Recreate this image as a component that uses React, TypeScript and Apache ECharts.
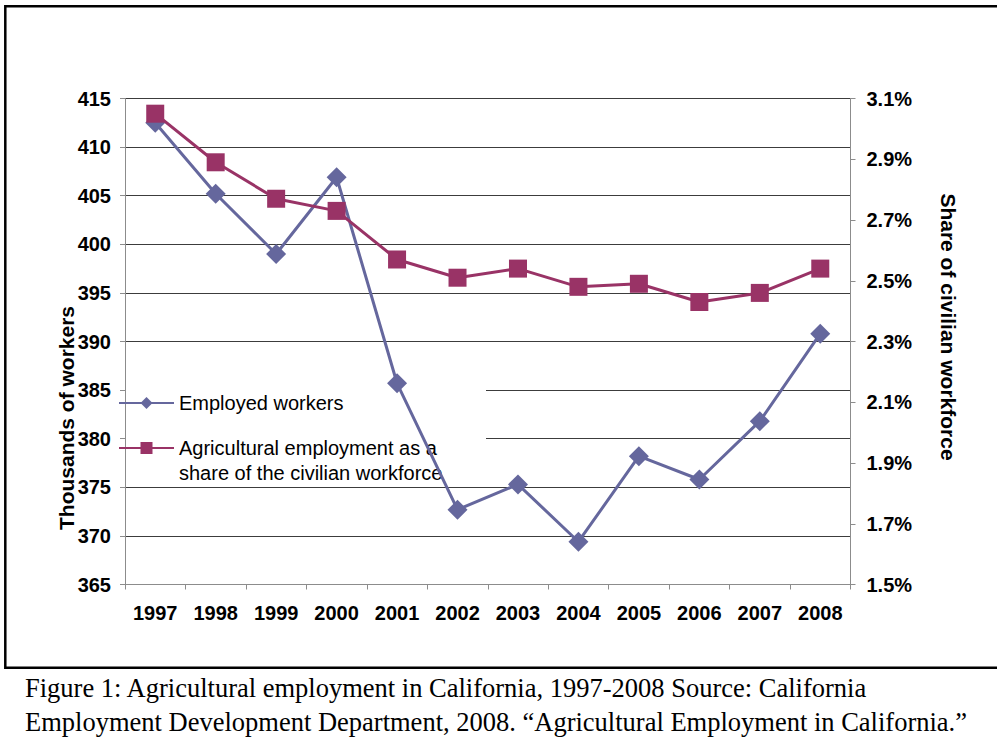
import React, { useEffect, useRef } from 'react';
import * as echarts from 'echarts';

const years = ['1997', '1998', '1999', '2000', '2001', '2002', '2003', '2004', '2005', '2006', '2007', '2008'];
const employedWorkers = [412.5, 405.2, 399.0, 406.9, 385.7, 372.7, 375.3, 369.4, 378.2, 375.8, 381.8, 390.8];
const agShare = [3.05, 2.89, 2.77, 2.73, 2.57, 2.51, 2.54, 2.48, 2.49, 2.43, 2.46, 2.54];
const rightTickValues = [1.5, 1.7, 1.9, 2.1, 2.3, 2.5, 2.7, 2.9, 3.1];

const seriesNames = ['Employed workers', 'Agricultural employment as a share of the civilian workforce'];
const captionLines = [
  'Figure 1: Agricultural employment in California, 1997-2008 Source: California',
  'Employment Development Department, 2008. \u201CAgricultural Employment in California.\u201D',
];

const SANS = '"Liberation Sans", Arial, sans-serif';
const SERIF = '"Liberation Serif", "Times New Roman", serif';

export default function App() {
  const ref = useRef<HTMLDivElement>(null);
  useEffect(() => {
    if (!ref.current) return;
    const chart = echarts.init(ref.current, undefined, { renderer: 'svg' });
    const axisGray = '#8c8c8c';
    const labelStyle = { color: '#000', fontWeight: 'bold' as const, fontSize: 20, fontFamily: SANS };
    chart.setOption({
      animation: false,
      backgroundColor: '#fff',
      grid: { left: 125, right: 146.5, top: 98.5, bottom: 155.5, containLabel: false },
      xAxis: {
        type: 'category',
        data: years,
        boundaryGap: true,
        axisLine: { lineStyle: { color: axisGray, width: 1 } },
        axisTick: { show: true, length: 5, lineStyle: { color: axisGray } },
        axisLabel: { ...labelStyle, margin: 18, interval: 0 },
        splitLine: { show: false },
      },
      yAxis: [
        {
          type: 'value',
          min: 365,
          max: 415,
          interval: 5,
          axisLine: { show: true, lineStyle: { color: axisGray } },
          axisTick: { show: true, length: 5, lineStyle: { color: axisGray } },
          axisLabel: { ...labelStyle, margin: 14 },
          splitLine: { show: true, lineStyle: { color: '#3c3c3c', width: 1 } },
        },
        {
          type: 'value',
          min: 1.5,
          max: 3.1,
          position: 'right',
          axisLine: { show: true, lineStyle: { color: axisGray } },
          axisTick: { show: true, length: 5, lineStyle: { color: axisGray }, customValues: rightTickValues },
          axisLabel: {
            ...labelStyle,
            margin: 16,
            customValues: rightTickValues,
            formatter: (v: number) => v.toFixed(1) + '%',
          },
          splitLine: { show: false },
        },
      ],
      legend: [
        {
          data: [seriesNames[0]],
          orient: 'vertical',
          left: 118,
          top: 393,
          padding: 0,
          itemWidth: 55,
          itemHeight: 15,
          selectedMode: false,
          z: 3,
          textStyle: { color: '#000', fontSize: 20, fontFamily: SANS },
        },
        {
          data: [seriesNames[1]],
          orient: 'vertical',
          left: 118,
          top: 410.5,
          padding: 0,
          itemWidth: 55,
          itemHeight: 15,
          selectedMode: false,
          z: 3,
          formatter: () => ' \nAgricultural employment as a\nshare of the civilian workforce',
          textStyle: { color: '#000', fontSize: 20, fontFamily: SANS, lineHeight: 25 },
        },
      ],
      series: [
        {
          name: seriesNames[0],
          type: 'line',
          data: employedWorkers,
          yAxisIndex: 0,
          symbol: 'diamond',
          symbolSize: 20,
          z: 5,
          lineStyle: { color: '#65679D', width: 3 },
          itemStyle: { color: '#65679D' },
        },
        {
          name: seriesNames[1],
          type: 'line',
          data: agShare,
          yAxisIndex: 1,
          symbol: 'rect',
          symbolSize: 18,
          z: 6,
          lineStyle: { color: '#993366', width: 3 },
          itemStyle: { color: '#993366' },
        },
      ],
      graphic: [
        {
          type: 'rect',
          z: 1,
          silent: true,
          shape: { x: 126, y: 360, width: 360, height: 122 },
          style: { fill: '#fff' },
        },
        {
          type: 'rect',
          z: 10,
          silent: true,
          shape: { x: 5.3, y: 6.3, width: 1000, height: 661.5 },
          style: { fill: 'none', stroke: '#000', lineWidth: 2.5 },
        },
        {
          type: 'text',
          z: 10,
          x: 66,
          y: 418,
          rotation: Math.PI / 2,
          style: {
            text: 'Thousands of workers',
            fill: '#000',
            font: 'bold 21px ' + SANS,
            align: 'center',
            verticalAlign: 'middle',
          },
        },
        {
          type: 'text',
          z: 10,
          x: 948,
          y: 327,
          rotation: -Math.PI / 2,
          style: {
            text: 'Share of civilian workforce',
            fill: '#000',
            font: 'bold 21px ' + SANS,
            align: 'center',
            verticalAlign: 'middle',
          },
        },
        {
          type: 'text',
          z: 10,
          x: 25,
          y: 688,
          style: { text: captionLines[0], fill: '#000', font: '26.5px ' + SERIF, align: 'left', verticalAlign: 'middle' },
        },
        {
          type: 'text',
          z: 10,
          x: 25,
          y: 722,
          style: { text: captionLines[1], fill: '#000', font: '26.5px ' + SERIF, align: 'left', verticalAlign: 'middle' },
        },
      ],
    });
    return () => chart.dispose();
  }, []);
  return <div ref={ref} style={{ position: 'fixed', left: 0, top: 0, width: 997, height: 740 }} />;
}
